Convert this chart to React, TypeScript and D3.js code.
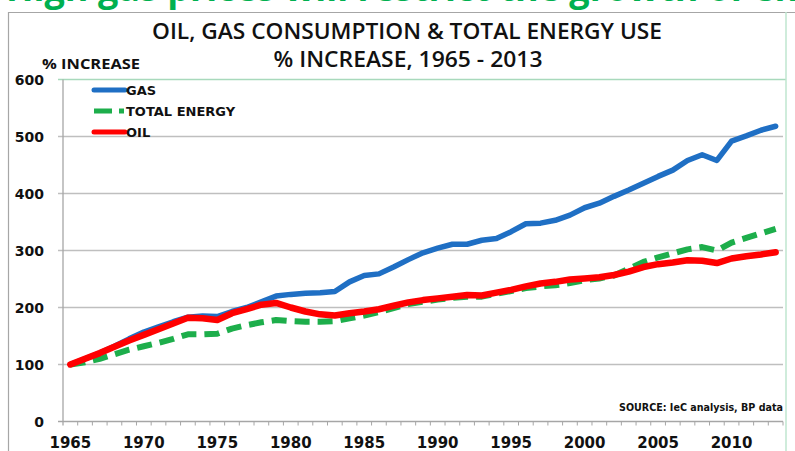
import React from 'react';
import { scaleBand, scaleLinear, line } from 'd3';

const years: number[] = [];
for (let y = 1965; y <= 2013; y++) years.push(y);

const gas = [
  100, 110, 120, 132, 145, 157, 166, 175, 183, 185, 184, 193, 200, 210, 220,
  223, 225, 226, 228, 245, 256, 259, 271, 284, 296, 304, 311, 311, 318, 321,
  333, 347, 348, 353, 362, 375, 383, 395, 406, 418, 430, 441, 458, 468, 458,
  492, 501, 511, 518,
];
const totalEnergy = [
  100, 104, 110, 118, 126, 132, 138, 145, 153, 153, 154, 163, 169, 174, 178,
  176, 175, 175, 176, 181, 186, 192, 199, 206, 210, 214, 217, 219, 219, 224,
  229, 234, 237, 239, 243, 248, 251, 256, 268, 280, 288, 295, 302, 306, 300,
  314, 322, 330, 338,
];
const oil = [
  100, 110, 120, 131, 142, 152, 162, 172, 182, 181, 178, 190, 197, 205, 208,
  200, 193, 188, 186, 190, 193, 197, 203, 209, 213, 216, 219, 222, 221, 226,
  231, 237, 242, 245, 249, 251, 253, 257, 263, 271, 276, 279, 283, 282, 278,
  286, 290, 293, 297,
];
const yTicks = [0, 100, 200, 300, 400, 500, 600];
const xLabels = [1965, 1970, 1975, 1980, 1985, 1990, 1995, 2000, 2005, 2010];

const x = scaleBand<number>().domain(years).range([63, 783]).padding(0);
const y = scaleLinear().domain([0, 600]).range([421.5, 79.5]);
const cx = (yr: number) => (x(yr) as number) + x.bandwidth() / 2;

const mkLine = line<number>()
  .x((_, i) => cx(years[i]))
  .y((d) => y(d));

const series = [
  { name: 'GAS', data: gas, color: '#1F6FC4', width: 5.5, dash: undefined as string | undefined },
  { name: 'TOTAL ENERGY', data: totalEnergy, color: '#1DAE4B', width: 6, dash: '15 8' },
  { name: 'OIL', data: oil, color: '#FF0000', width: 6.5, dash: undefined as string | undefined },
];

const axisFont = 'DejaVu Sans, Verdana, sans-serif';
const titleFont = 'Open Sans, Lato, sans-serif';

export default function App() {
  return (
    <svg
      width={795}
      height={451}
      style={{ position: 'absolute', left: 0, top: 0, background: '#fff' }}
    >
      {/* slide heading, mostly cut off above the picture */}
      <text x={6} y={0.5} fontFamily={titleFont} fontWeight={700} fontSize={36} fill="#00B050">
        High gas prices will restrict the growth of energy use by industry
      </text>

      {/* chart frame */}
      <line x1={8} x2={795} y1={12.5} y2={12.5} stroke="#A6A6A6" strokeWidth={1.2} />
      <line x1={8.5} x2={8.5} y1={12} y2={451} stroke="#A6A6A6" strokeWidth={1.2} />

      {/* titles */}
      <text x={407} y={39} textAnchor="middle" fontFamily={titleFont} fontWeight={600}
        fontSize={21} fill="#111" textLength={510} lengthAdjust="spacingAndGlyphs">
        OIL, GAS CONSUMPTION &amp; TOTAL ENERGY USE
      </text>
      <text x={408} y={67} textAnchor="middle" fontFamily={titleFont} fontWeight={600}
        fontSize={21} fill="#111" textLength={269} lengthAdjust="spacingAndGlyphs">
        % INCREASE, 1965 - 2013
      </text>
      <text x={42} y={69} fontFamily={titleFont} fontWeight={700} fontSize={14}
        fill="#111" textLength={98} lengthAdjust="spacingAndGlyphs">
        % INCREASE
      </text>

      {/* gridlines and y axis */}
      {yTicks.map((t) => (
        <g key={t}>
          <line x1={58} x2={t === 600 ? 786 : 783} y1={y(t)} y2={y(t)}
            stroke={t === 600 ? '#A8D9BC' : t === 0 ? '#A6A6A6' : '#BFBFBF'} strokeWidth={1.3} />
          <text x={44} y={y(t) + 5} textAnchor="end" fontFamily={axisFont}
            fontWeight={700} fontSize={14} fill="#111">
            {t}
          </text>
        </g>
      ))}
      <line x1={786} x2={786} y1={12} y2={451} stroke="#BFE6CF" strokeWidth={1.5} />
      <line x1={63} x2={63} y1={y(600)} y2={y(0) + 4} stroke="#A6A6A6" strokeWidth={1.3} />

      {/* x axis ticks and labels */}
      {years.map((yr) => (
        <line key={yr} x1={(x(yr) as number) + x.bandwidth()} x2={(x(yr) as number) + x.bandwidth()}
          y1={y(0)} y2={y(0) + 4} stroke="#A6A6A6" strokeWidth={1} />
      ))}
      {xLabels.map((yr) => (
        <text key={yr} x={cx(yr)} y={448} textAnchor="middle" fontFamily={axisFont}
          fontWeight={700} fontSize={15} fill="#111">
          {yr}
        </text>
      ))}

      {/* series */}
      {series.map((s) => (
        <path key={s.name} d={mkLine(s.data) || ''} fill="none" stroke={s.color}
          strokeWidth={s.width} strokeDasharray={s.dash} strokeLinejoin="round"
          strokeLinecap={s.dash ? 'butt' : 'round'} />
      ))}

      {/* legend */}
      {series.map((s, i) => {
        const ly = 90 + i * 21;
        return (
          <g key={s.name}>
            <line x1={94} x2={125} y1={ly} y2={ly} stroke={s.color} strokeWidth={5}
              strokeDasharray={s.dash ? '18 7 5 20' : undefined}
              strokeLinecap={s.dash ? 'butt' : 'round'} />
            <text x={126} y={ly + 5} fontFamily={axisFont} fontWeight={700}
              fontSize={13} fill="#111">
              {s.name}
            </text>
          </g>
        );
      })}

      <text x={783} y={411} textAnchor="end" fontFamily={axisFont} fontWeight={700}
        fontSize={10} fill="#111" textLength={164} lengthAdjust="spacingAndGlyphs">
        SOURCE: IeC analysis, BP data
      </text>
    </svg>
  );
}
